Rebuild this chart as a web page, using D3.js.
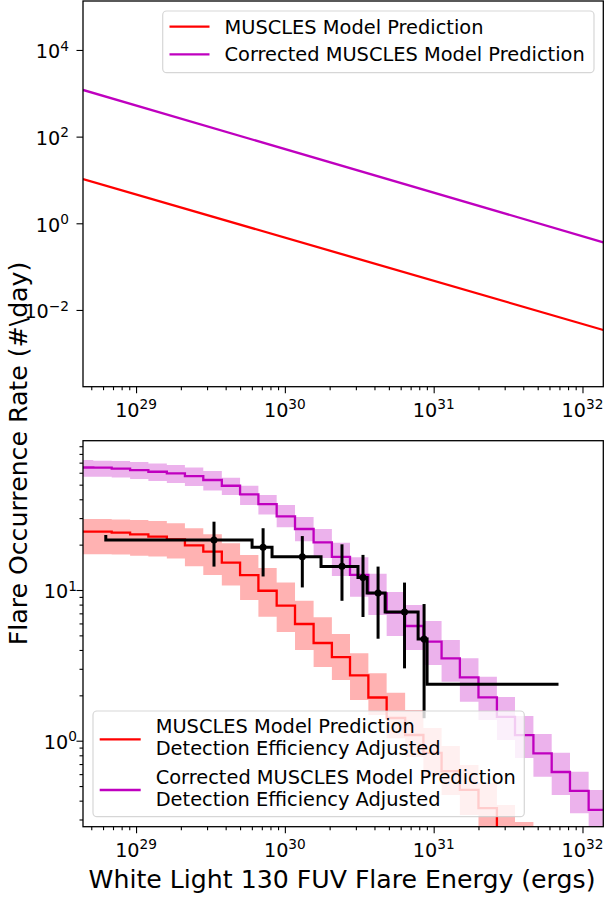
<!DOCTYPE html>
<html>
<head>
<meta charset="utf-8">
<script src="https://cdn.jsdelivr.net/npm/d3@7"></script>
<style>
  body { margin: 0; background: #fff; }
  text { font-family: "DejaVu Sans", sans-serif; fill: #000; }
</style>
</head>
<body>
<svg width="606" height="899"></svg>
<script>
// ---- data ----

// top panel: power law endpoints (energy in ergs, rate in #/day)
var topEnergy = [4.4e28, 1.38e32];
var topModel = [10.5, 0.00345];
var topCorrected = [1194, 0.364];

// bottom panel: histogram bin edges (ergs) for the model curves
var binEdges = [3.89e28, 5.16e28, 6.86e28, 9.12e28, 1.21e29, 1.61e29, 2.13e29, 2.83e29, 3.77e29, 5.00e29,
  6.64e29, 8.81e29, 1.17e30, 1.56e30, 2.07e30, 2.74e30, 3.64e30, 4.83e30, 6.43e30, 8.53e30,
  1.13e31, 1.50e31, 2.00e31, 2.66e31, 3.52e31, 4.68e31, 6.21e31, 8.24e31, 1.10e32, 1.46e32];

// MUSCLES model, detection efficiency adjusted (one value per bin)
var modelRate = [24.4, 24.4, 24.0, 23.4, 22.6, 21.7, 19.8, 17.96, 15.18, 12.57, 9.89, 7.87, 5.95,
  4.45, 3.59, 2.71, 1.935, 1.415, 1.091, 0.829, 0.629, 0.471, 0.357, 0.263, 0.200];
var modelLow = [17.3, 17.3, 17.2, 16.9, 16.7, 16.2, 14.4, 12.6, 10.7, 8.58, 6.65, 5.26, 4.00,
  3.08, 2.53, 1.86, 1.48, 1.04, 0.780, 0.583, 0.436, 0.321, 0.237, 0.188, 0.139];
var modelHigh = [29.6, 29.6, 29.4, 29.1, 28.7, 27.7, 25.7, 23.4, 20.4, 17.1, 14.0, 11.2, 8.49,
  6.59, 5.11, 3.80, 2.80, 2.08, 1.60, 1.215, 0.922, 0.690, 0.524, 0.374, 0.289];

// corrected MUSCLES model, detection efficiency adjusted
var corrRate = [65.0, 64.8, 63.8, 62.5, 60.9, 59.5, 57.0, 53.7, 49.2, 43.1, 37.2, 30.8, 25.4, 20.7,
  16.6, 12.6, 9.51, 7.07, 5.77, 4.54, 3.52, 2.63, 1.94, 1.44, 1.09, 0.825, 0.620, 0.464, 0.347];
var corrLow = [56.5, 56.5, 55.8, 54.5, 52.9, 51.3, 49.0, 45.7, 42.7, 36.6, 31.7, 26.1, 21.1, 16.3,
  12.4, 9.03, 6.83, 4.95, 4.00, 3.18, 2.46, 1.815, 1.372, 1.011, 0.768, 0.577, 0.436, 0.330, 0.248];
var corrHigh = [72.9, 72.1, 71.8, 70.7, 69.1, 67.5, 65.0, 61.6, 55.6, 49.2, 42.7, 36.6, 30.5, 25.4,
  20.6, 16.5, 12.8, 9.70, 7.95, 6.23, 4.66, 3.52, 2.66, 1.95, 1.46, 1.108, 0.833, 0.623, 0.471];

// observed cumulative rate (black step) and the points with error bars
var obsStepEnergy = [6.26e28, 6.02e29, 8.20e29, 1.75e30, 3.10e30, 3.57e30, 4.72e30, 7.86e30, 9.03e30, 6.9e31];
var obsStepRate = [23.2, 21.5, 19.2, 16.6, 14.3, 12.1, 9.55, 7.14, 4.73, 2.37];
var obsEnergy = [3.34e29, 7.14e29, 1.31e30, 2.42e30, 3.35e30, 4.23e30, 6.37e30, 8.62e30];
var obsRate = [21.5, 19.2, 16.6, 14.4, 12.1, 9.55, 7.14, 4.73];
var obsLow = [14.3, 12.3, 10.4, 8.48, 6.62, 4.75, 3.02, 1.41];
var obsHigh = [28.4, 25.7, 22.8, 20.1, 17.1, 14.3, 11.2, 8.07];

// tick labels (powers of ten)
var xTickExp = [29, 30, 31, 32];
var topYTickExp = [-2, 0, 2, 4];
var botYTickExp = [0, 1];

var topLegend = ["MUSCLES Model Prediction", "Corrected MUSCLES Model Prediction"];
var botLegend = [["MUSCLES Model Prediction", "Detection Efficiency Adjusted"],
  ["Corrected MUSCLES Model Prediction", "Detection Efficiency Adjusted"]];

var RED = "#ff0000", MAG = "#bf00bf";

// ---- layout ----
var svg = d3.select("svg");
var left = 83, right = 603.3;
var top1 = { y0: 1, y1: 386.7 };
var top2 = { y0: 440.7, y1: 826.7 };

var x = d3.scaleLog().domain([4.4e28, 1.38e32]).range([left, right]);
var yTop = d3.scaleLog().domain([1.349e5, 1.694e-4]).range([top1.y0, top1.y1]);
var yBot = d3.scaleLog().domain([97.9, 0.2687]).range([top2.y0, top2.y1]);

function pow10(e) { return Math.pow(10, e); }
function supText(sel, e) {
  sel.append("tspan").text("10");
  sel.append("tspan").attr("font-size", 13.7).attr("dy", -7.5)
    .text(e < 0 ? "\u2212" + (-e) : String(e));
}

// clip paths for each panel
var defs = svg.append("defs");
[["clipTop", top1], ["clipBot", top2]].forEach(function(c) {
  defs.append("clipPath").attr("id", c[0]).append("rect")
    .attr("x", left).attr("y", c[1].y0)
    .attr("width", right - left).attr("height", c[1].y1 - c[1].y0);
});

// ---- top panel ----
var gTop = svg.append("g").attr("clip-path", "url(#clipTop)");
var topLine = d3.line()
  .x(function(d) { return x(d[0]); })
  .y(function(d) { return yTop(d[1]); });

gTop.append("path")
  .datum(d3.zip(topEnergy, topModel))
  .attr("d", topLine).attr("fill", "none").attr("stroke", RED).attr("stroke-width", 2.3);
gTop.append("path")
  .datum(d3.zip(topEnergy, topCorrected))
  .attr("d", topLine).attr("fill", "none").attr("stroke", MAG).attr("stroke-width", 2.3);

// ---- bottom panel ----
var gBot = svg.append("g").attr("clip-path", "url(#clipBot)");

// build step points: one point per bin left edge plus the final right edge
function stepPoints(vals, lo, hi) {
  var pts = vals.map(function(v, i) { return { e: binEdges[i], v: v, lo: lo[i], hi: hi[i] }; });
  var n = vals.length;
  pts.push({ e: binEdges[n], v: vals[n - 1], lo: lo[n - 1], hi: hi[n - 1] });
  return pts;
}

var band = d3.area()
  .curve(d3.curveStepAfter)
  .x(function(d) { return x(d.e); })
  .y0(function(d) { return yBot(d.lo); })
  .y1(function(d) { return yBot(d.hi); });
var stepLine = d3.line()
  .curve(d3.curveStepAfter)
  .x(function(d) { return x(d.e); })
  .y(function(d) { return yBot(d.v); });

var modelPts = stepPoints(modelRate, modelLow, modelHigh);
var corrPts = stepPoints(corrRate, corrLow, corrHigh);

gBot.append("path").datum(modelPts).attr("d", band)
  .attr("fill", RED).attr("fill-opacity", 0.3);
gBot.append("path").datum(corrPts).attr("d", band)
  .attr("fill", MAG).attr("fill-opacity", 0.3);
gBot.append("path").datum(modelPts).attr("d", stepLine)
  .attr("fill", "none").attr("stroke", RED).attr("stroke-width", 2.3);
gBot.append("path").datum(corrPts).attr("d", stepLine)
  .attr("fill", "none").attr("stroke", MAG).attr("stroke-width", 2.3);

// observed step
gBot.append("path")
  .datum(d3.zip(obsStepEnergy, obsStepRate))
  .attr("d", d3.line().curve(d3.curveStepBefore)
    .x(function(d) { return x(d[0]); })
    .y(function(d) { return yBot(d[1]); }))
  .attr("fill", "none").attr("stroke", "#000").attr("stroke-width", 3);

// error bars and markers
var obs = obsEnergy.map(function(e, i) { return { e: e, r: obsRate[i], lo: obsLow[i], hi: obsHigh[i] }; });
gBot.selectAll(".err").data(obs).enter().append("line")
  .attr("x1", function(d) { return x(d.e); })
  .attr("x2", function(d) { return x(d.e); })
  .attr("y1", function(d) { return yBot(d.lo); })
  .attr("y2", function(d) { return yBot(d.hi); })
  .attr("stroke", "#000").attr("stroke-width", 3);
gBot.selectAll(".pt").data(obs).enter().append("circle")
  .attr("cx", function(d) { return x(d.e); })
  .attr("cy", function(d) { return yBot(d.r); })
  .attr("r", 3.5).attr("fill", "#000");

// ---- axes ----
function drawAxes(panel, y, yMajor, yMinor, labelRight) {
  var majorX = xTickExp.map(pow10);
  var minorX = x.ticks().filter(function(t) { return majorX.indexOf(t) < 0 && Math.abs(Math.log10(t) % 1) > 1e-6; });

  var gx = svg.append("g").attr("transform", "translate(0," + panel.y1 + ")");
  gx.append("g").call(d3.axisBottom(x).tickValues(majorX).tickFormat("").tickSize(6.5).tickSizeOuter(0));
  gx.append("g").call(d3.axisBottom(x).tickValues(minorX).tickFormat("").tickSize(3.5).tickSizeOuter(0));
  gx.selectAll(".domain").remove();
  gx.selectAll(".tick line").attr("stroke", "#000").attr("stroke-width", 1.1);

  xTickExp.forEach(function(e) {
    gx.append("text").attr("x", x(pow10(e))).attr("y", 30.3)
      .attr("text-anchor", "middle").attr("font-size", 19.2)
      .call(supText, e);
  });

  var gy = svg.append("g").attr("transform", "translate(" + left + ",0)");
  gy.append("g").call(d3.axisLeft(y).tickValues(yMajor.map(pow10)).tickFormat("").tickSize(6.5).tickSizeOuter(0));
  if (yMinor.length) {
    gy.append("g").call(d3.axisLeft(y).tickValues(yMinor).tickFormat("").tickSize(3.5).tickSizeOuter(0));
  }
  gy.selectAll(".domain").remove();
  gy.selectAll(".tick line").attr("stroke", "#000").attr("stroke-width", 1.1);

  yMajor.forEach(function(e) {
    gy.append("text").attr("x", labelRight - left).attr("y", y(pow10(e)) + 8.3)
      .attr("text-anchor", "end").attr("font-size", 19.2)
      .call(supText, e);
  });

  // frame
  svg.append("rect").attr("x", left).attr("y", panel.y0)
    .attr("width", right - left).attr("height", panel.y1 - panel.y0)
    .attr("fill", "none").attr("stroke", "#000").attr("stroke-width", 1.3);
}

var botMinor = yBot.ticks().filter(function(t) {
  return botYTickExp.map(pow10).indexOf(t) < 0;
});
drawAxes(top1, yTop, topYTickExp, [], 69);
drawAxes(top2, yBot, botYTickExp, botMinor, 77);

// ---- legends ----
function legendBox(x0, y0, w, h) {
  svg.append("rect").attr("x", x0).attr("y", y0).attr("width", w).attr("height", h)
    .attr("rx", 4).attr("fill", "#fff").attr("fill-opacity", 0.8)
    .attr("stroke", "#cccccc").attr("stroke-opacity", 0.8).attr("stroke-width", 1.2);
}

legendBox(162.7, 11, 431.3, 61.7);
var tl = svg.append("g").selectAll("g").data(topLegend).enter().append("g")
  .attr("transform", function(d, i) { return "translate(0," + (26.7 + i * 27.6) + ")"; });
tl.append("line").attr("x1", 169.5).attr("x2", 209.5)
  .attr("stroke", function(d, i) { return i ? MAG : RED; }).attr("stroke-width", 2.3);
tl.append("text").attr("x", 224.5).attr("y", 6.9).attr("font-size", 19.4).text(function(d) { return d; });

legendBox(93, 711, 431.3, 105.7);
var bl = svg.append("g").selectAll("g").data(botLegend).enter().append("g")
  .attr("transform", function(d, i) { return "translate(0," + (739.3 + i * 50.7) + ")"; });
bl.append("line").attr("x1", 99.7).attr("x2", 140.7)
  .attr("stroke", function(d, i) { return i ? MAG : RED; }).attr("stroke-width", 2.3);
bl.each(function(d) {
  var t = d3.select(this).append("text").attr("font-size", 19.4);
  t.append("tspan").attr("x", 155.7).attr("y", -6).text(d[0]);
  t.append("tspan").attr("x", 155.7).attr("y", 15.7).text(d[1]);
});

// ---- axis labels ----
svg.append("text")
  .attr("x", 342).attr("y", 888.3)
  .attr("text-anchor", "middle").attr("font-size", 25.2)
  .text("White Light 130 FUV Flare Energy (ergs)");

svg.append("text")
  .attr("transform", "translate(26.5,453.5) rotate(-90)")
  .attr("text-anchor", "middle").attr("font-size", 25.2)
  .text("Flare Occurrence Rate (#\\day)");
</script>
</body>
</html>
